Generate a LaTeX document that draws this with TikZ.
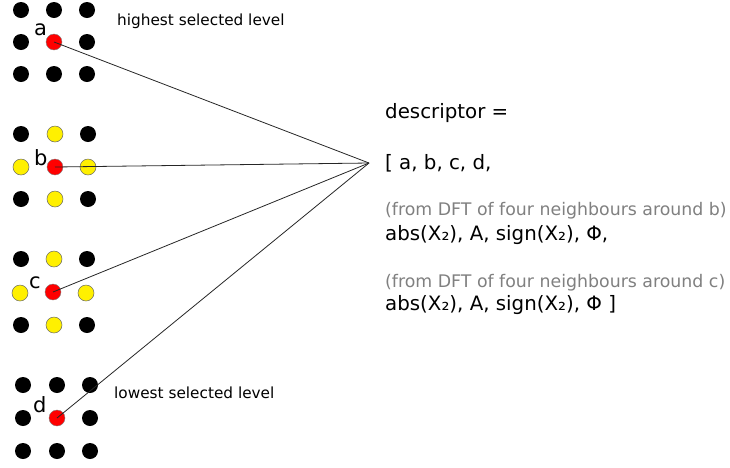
\documentclass[tikz,border=0pt]{standalone}
\usepackage{fontspec}
\setmainfont{DejaVu Sans}
\definecolor{dotyellow}{RGB}{255,240,0}
\definecolor{notegray}{RGB}{128,128,128}
\begin{document}
\begin{tikzpicture}[x=1pt,y=-1pt,
  dot/.style={circle,inner sep=0pt,minimum size=16pt},
  blackdot/.style={dot,fill=black},
  yellowdot/.style={dot,fill=dotyellow,draw=black!60,line width=0.5pt},
  reddot/.style={dot,fill=red,draw=black!50,line width=0.4pt},
  letter/.style={anchor=base west,inner sep=0pt,font=\fontsize{21}{24}\selectfont},
  levellabel/.style={anchor=base west,inner sep=0pt,font=\fontsize{15.3}{18}\selectfont},
  maintext/.style={anchor=base west,inner sep=0pt,font=\fontsize{19.8}{23}\selectfont},
  note/.style={anchor=base west,inner sep=0pt,text=notegray,font=\fontsize{17.35}{21}\selectfont},
  link/.style={draw=black!85,line width=0.8pt}]
\useasboundingbox (0,0) rectangle (730,467);

% highest selected level
\foreach \x in {21,54,87} \foreach \y in {10,74} \node[blackdot] at (\x,\y) {};
\node[blackdot] at (21,42) {};
\node[blackdot] at (87,42) {};
\node[reddot] (a) at (54,42) {};
\node[letter] (la) at (34,35) {a};
\node[levellabel] (top) at (117,25) {highest selected level};

% level b with its four neighbours
\node[blackdot] at (21,134) {};
\node[blackdot] at (88,134) {};
\node[blackdot] at (21,199) {};
\node[blackdot] at (88,199) {};
\node[yellowdot] at (55,134) {};
\node[yellowdot] at (55,199) {};
\node[yellowdot] at (21,167) {};
\node[yellowdot] at (88,167) {};
\node[reddot] (b) at (55,167) {};
\node[letter] (lb) at (34,165) {b};

% level c with its four neighbours
\node[blackdot] at (21,259) {};
\node[blackdot] at (87,259) {};
\node[blackdot] at (21,325) {};
\node[blackdot] at (87,325) {};
\node[yellowdot] at (54,259) {};
\node[yellowdot] at (54,325) {};
\node[yellowdot] at (20,293) {};
\node[yellowdot] at (86,293) {};
\node[reddot] (c) at (53,292) {};
\node[letter] (lc) at (29,288) {c};

% lowest selected level
\foreach \x in {23,57,90} \foreach \y in {385,451} \node[blackdot] at (\x,\y) {};
\node[blackdot] at (23,418) {};
\node[blackdot] at (90,418) {};
\node[reddot] (d) at (57,418) {};
\node[letter] (ld) at (33,412) {d};
\node[levellabel] (bottom) at (114,398) {lowest selected level};

% connectors into the descriptor
\coordinate (hub) at (369,163);
\foreach \n in {a,b,c,d} \draw[link] (\n.center) -- (hub);

% descriptor text
\node[maintext] (t1) at (385,118) {descriptor =};
\node[maintext] (t2) at (385,169) {[ a, b, c, d,};
\node[note] (t3) at (385,215) {(from DFT of four neighbours around b)};
\node[maintext] (t4) at (385,240) {abs(X₂), A, sign(X₂), Φ,};
\node[note] (t5) at (385,287) {(from DFT of four neighbours around c)};
\node[maintext] (t6) at (385,310) {abs(X₂), A, sign(X₂), Φ ]};
\end{tikzpicture}
\end{document}
